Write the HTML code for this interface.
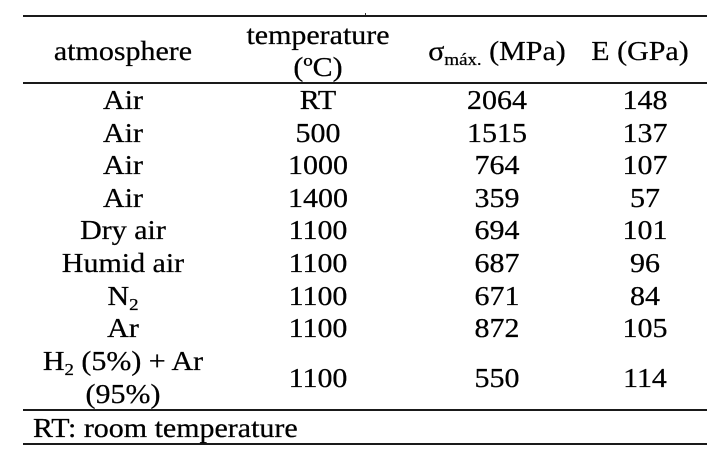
<!DOCTYPE html>
<html>
<head>
<meta charset="utf-8">
<style>
  html, body { margin: 0; padding: 0; background: #fff; }
  #c { position: relative; width: 727px; height: 460px; overflow: hidden; background: #fff;
       font-family: "Liberation Serif", "DejaVu Serif", serif; font-size: 27px; color: #000; }
  .t { position: absolute; width: 300px; text-align: center; line-height: 32px; height: 32px; white-space: nowrap;
       transform: scaleX(1.11); transform-origin: 50% 50%; -webkit-text-stroke: 0.25px #000; }
  .l { position: absolute; left: 23px; width: 684px; height: 2px; background: #1a1a1a; }
  sub { font-size: 17px; vertical-align: baseline; position: relative; top: 5px; }
</style>
</head>
<body>
<div id="c">
  <div style="position:absolute;left:365px;top:13px;width:1px;height:2px;background:#333;"></div>
  <div class="l" style="top:15px;"></div>
  <div class="l" style="top:82px;"></div>
  <div class="l" style="top:409px;"></div>
  <div class="l" style="top:443px;"></div>

  <!-- header -->
  <div class="t" style="left:-27px;top:35px;">atmosphere</div>
  <div class="t" style="left:168px;top:19px;">temperature</div>
  <div class="t" style="left:168px;top:51px;">(ºC)</div>
  <div class="t" style="left:347px;top:35px;">σ<sub>máx.</sub> (MPa)</div>
  <div class="t" style="left:490px;top:35px;">E (GPa)</div>

  <!-- rows -->
  <div class="t" style="left:-27px;top:84px;">Air</div>
  <div class="t" style="left:168px;top:84px;">RT</div>
  <div class="t" style="left:347px;top:84px;">2064</div>
  <div class="t" style="left:495px;top:84px;">148</div>

  <div class="t" style="left:-27px;top:117px;">Air</div>
  <div class="t" style="left:168px;top:117px;">500</div>
  <div class="t" style="left:347px;top:117px;">1515</div>
  <div class="t" style="left:495px;top:117px;">137</div>

  <div class="t" style="left:-27px;top:149px;">Air</div>
  <div class="t" style="left:168px;top:149px;">1000</div>
  <div class="t" style="left:347px;top:149px;">764</div>
  <div class="t" style="left:495px;top:149px;">107</div>

  <div class="t" style="left:-27px;top:182px;">Air</div>
  <div class="t" style="left:168px;top:182px;">1400</div>
  <div class="t" style="left:347px;top:182px;">359</div>
  <div class="t" style="left:495px;top:182px;">57</div>

  <div class="t" style="left:-27px;top:214px;">Dry air</div>
  <div class="t" style="left:168px;top:214px;">1100</div>
  <div class="t" style="left:347px;top:214px;">694</div>
  <div class="t" style="left:495px;top:214px;">101</div>

  <div class="t" style="left:-27px;top:247px;">Humid air</div>
  <div class="t" style="left:168px;top:247px;">1100</div>
  <div class="t" style="left:347px;top:247px;">687</div>
  <div class="t" style="left:495px;top:247px;">96</div>

  <div class="t" style="left:-27px;top:280px;">N<sub>2</sub></div>
  <div class="t" style="left:168px;top:280px;">1100</div>
  <div class="t" style="left:347px;top:280px;">671</div>
  <div class="t" style="left:495px;top:280px;">84</div>

  <div class="t" style="left:-27px;top:312px;">Ar</div>
  <div class="t" style="left:168px;top:312px;">1100</div>
  <div class="t" style="left:347px;top:312px;">872</div>
  <div class="t" style="left:495px;top:312px;">105</div>

  <div class="t" style="left:-27px;top:345px;">H<sub>2</sub> (5%) + Ar</div>
  <div class="t" style="left:-27px;top:378px;">(95%)</div>
  <div class="t" style="left:168px;top:362px;">1100</div>
  <div class="t" style="left:347px;top:362px;">550</div>
  <div class="t" style="left:495px;top:362px;">114</div>

  <div class="t" style="left:33px;top:412px;text-align:left;transform-origin:0 50%;">RT: room temperature</div>
</div>
</body>
</html>
